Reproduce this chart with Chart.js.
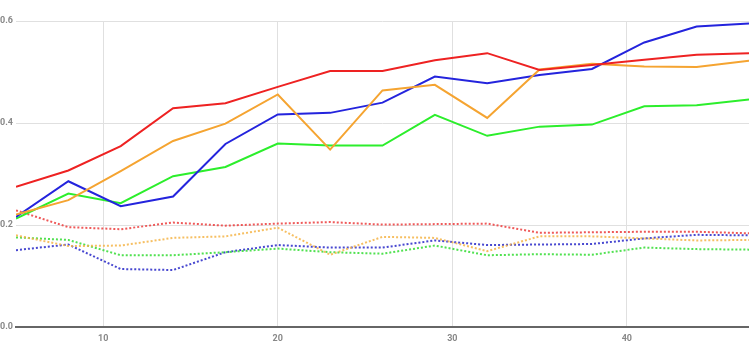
<!DOCTYPE html>
<html>
<head>
<meta charset="utf-8">
<script src="https://cdn.jsdelivr.net/npm/chart.js@4"></script>
<style>
  html, body { margin: 0; padding: 0; background: #fff; }
  #wrap { width: 749px; height: 350px; }
</style>
</head>
<body>
<div id="wrap"><canvas id="lenChart"></canvas></div>
<script>
// x positions (steps) and tick labels
const steps = [5, 8, 11, 14, 17, 20, 23, 26, 29, 32, 35, 38, 41, 44, 47];
const xTicks = [10, 20, 30, 40];
const yTicks = [0, 0.2, 0.4, 0.6];

// solid lines
const redSolid    = [0.275, 0.307, 0.355, 0.429, 0.439, 0.471, 0.502, 0.502, 0.523, 0.537, 0.504, 0.514, 0.524, 0.534, 0.537];
const blueSolid   = [0.216, 0.286, 0.237, 0.256, 0.359, 0.417, 0.420, 0.440, 0.491, 0.478, 0.494, 0.506, 0.558, 0.589, 0.595];
const orangeSolid = [0.221, 0.249, 0.306, 0.365, 0.399, 0.456, 0.348, 0.464, 0.475, 0.410, 0.505, 0.516, 0.511, 0.510, 0.522];
const greenSolid  = [0.213, 0.262, 0.243, 0.296, 0.314, 0.360, 0.356, 0.356, 0.416, 0.375, 0.393, 0.397, 0.433, 0.435, 0.446];

// dotted lines
const redDot    = [0.229, 0.196, 0.192, 0.205, 0.199, 0.203, 0.206, 0.201, 0.202, 0.203, 0.185, 0.186, 0.187, 0.187, 0.184];
const orangeDot = [0.180, 0.159, 0.160, 0.175, 0.178, 0.195, 0.142, 0.177, 0.175, 0.149, 0.178, 0.178, 0.174, 0.170, 0.171];
const greenDot  = [0.176, 0.171, 0.141, 0.141, 0.147, 0.154, 0.147, 0.144, 0.160, 0.141, 0.143, 0.142, 0.156, 0.153, 0.152];
const blueDot   = [0.151, 0.162, 0.114, 0.112, 0.147, 0.161, 0.156, 0.156, 0.170, 0.161, 0.162, 0.163, 0.174, 0.181, 0.180];

function pts(arr) {
  return arr.map((v, i) => ({ x: steps[i], y: v }));
}

function solid(label, data, color) {
  return { label: label, data: pts(data), borderColor: color, borderWidth: 2, pointRadius: 0, fill: false, tension: 0 };
}
function dotted(label, data, color) {
  return { label: label, data: pts(data), borderColor: color, borderWidth: 2, borderDash: [2, 2], pointRadius: 0, fill: false, tension: 0 };
}

const ctx = document.getElementById('lenChart').getContext('2d');
new Chart(ctx, {
  type: 'line',
  data: {
    datasets: [
      solid('red', redSolid, '#ee2222'),
      solid('orange', orangeSolid, '#f5a431'),
      solid('blue', blueSolid, '#2424dd'),
      solid('green', greenSolid, '#2cee2c'),
      dotted('red dotted', redDot, 'rgba(236,60,60,0.85)'),
      dotted('orange dotted', orangeDot, 'rgba(245,180,70,0.85)'),
      dotted('green dotted', greenDot, 'rgba(50,220,50,0.85)'),
      dotted('blue dotted', blueDot, 'rgba(40,40,200,0.85)')
    ]
  },
  options: {
    responsive: true,
    maintainAspectRatio: false,
    animation: false,
    layout: { padding: { top: 21, right: 0, bottom: 0, left: 0 } },
    plugins: {
      legend: { display: false },
      title: { display: false },
      tooltip: { enabled: false }
    },
    scales: {
      x: {
        type: 'linear',
        min: 5,
        max: 47,
        afterBuildTicks: (axis) => { axis.ticks = xTicks.map(v => ({ value: v })); },
        grid: { color: '#e0e0e0', drawTicks: false },
        border: { color: '#666', width: 2 },
        ticks: { color: '#888', padding: 6, font: { family: 'Roboto', size: 9, weight: 'bold' } }
      },
      y: {
        min: 0,
        max: 0.6,
        afterBuildTicks: (axis) => { axis.ticks = yTicks.map(v => ({ value: v })); },
        afterFit: (axis) => { axis.width = 16; },
        grid: { color: '#e0e0e0', drawTicks: false },
        border: { display: false },
        ticks: {
          color: '#888', padding: 3,
          font: { family: 'Roboto', size: 9, weight: 'bold' },
          callback: (v) => Number(v).toFixed(1)
        }
      }
    }
  }
});
</script>
</body>
</html>
